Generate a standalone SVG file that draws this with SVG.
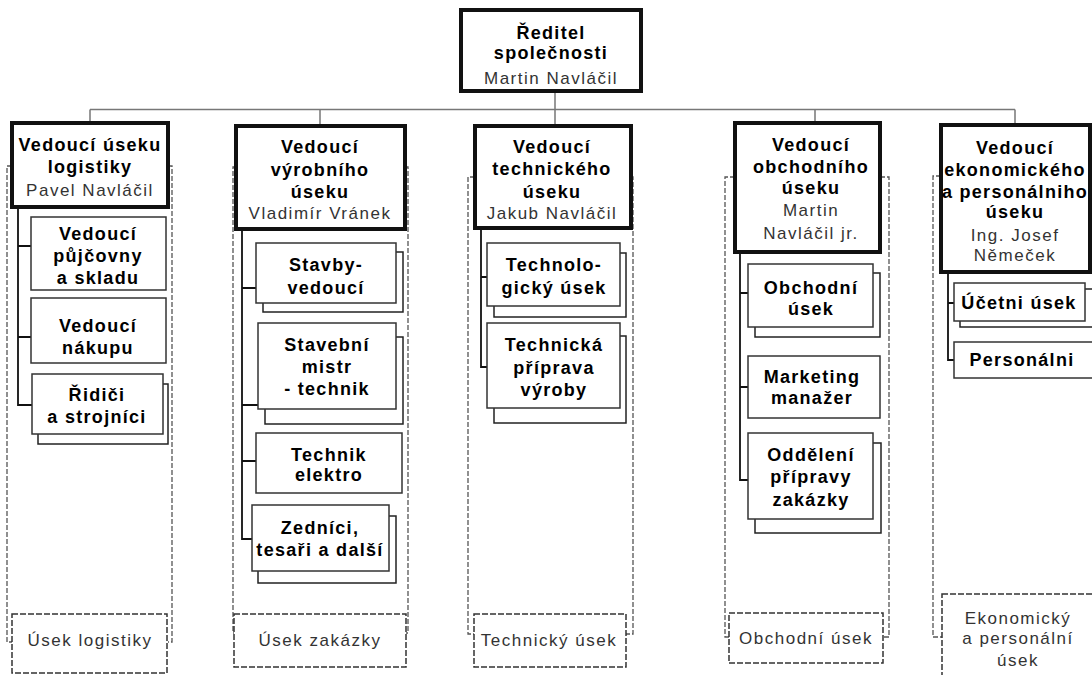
<svg xmlns="http://www.w3.org/2000/svg" width="1092" height="675" viewBox="0 0 1092 675">
<style>
.bg{fill:#fff}
.thick{fill:#fff;stroke:#111;stroke-width:4}
.box{fill:#fff;stroke:#333;stroke-width:1.5}
.sh{fill:#fff;stroke:#222;stroke-width:1.5}
.main{fill:none;stroke:#777;stroke-width:1.5}
.con{fill:none;stroke:#111;stroke-width:1.8}
.outl{fill:none;stroke:#555;stroke-width:1.3;stroke-dasharray:5 2}
.lab{fill:#fff;stroke:#333;stroke-width:1.5;stroke-dasharray:6 2}
text{font-family:"Liberation Sans",Arial,sans-serif;font-size:17px;text-anchor:middle}
.b{font-weight:bold;font-size:18px;fill:#000;letter-spacing:1.3px}
.r{font-weight:normal;fill:#333;letter-spacing:1.5px}
</style>
<rect class="bg" x="0" y="0" width="1092" height="675"/>

<g id="outlines">
<path class="outl" d="M12,166 H7 V642 H12 M168,166 H172 V642 H168"/>
<path class="outl" d="M236,167 H233 V633 H236 M405,167 H408 V633 H405"/>
<path class="outl" d="M475,177 H468 V634 H474 M631,177 H633 V634 H626"/>
<path class="outl" d="M735,177 H725 V637 H729 M880,177 H889 V637 H883"/>
<path class="outl" d="M941,176 H933 V637 H942"/>
</g>

<g id="connectors">
<path class="main" d="M90,109.5 H1015 M90,109.5 V123 M320,109.5 V126 M555,91 V126 M815,109.5 V123 M1015,109.5 V125"/>
<path class="con" d="M18,207 V405 H32 M18,246 H31 M18,337 H31"/>
<path class="con" d="M242,229 V539 H252 M242,288 H256 M242,405 H258 M242,461 H256"/>
<path class="con" d="M481,228 V367 H487 M481,277 H487"/>
<path class="con" d="M740,252 V480 H748 M740,293 H748 M740,387 H748"/>
<path class="con" d="M948,272 V360 H954 M948,303 H954"/>
</g>

<g id="director">
<rect class="thick" x="461" y="10" width="180" height="81"/>
<text class="b" x="551" y="39">Ředitel</text>
<text class="b" x="551" y="59">společnosti</text>
<text class="r" x="551" y="84">Martin Navláčil</text>
</g>

<g id="head-logistika">
<rect class="thick" x="12" y="123" width="156" height="84"/>
<text class="b" x="90" y="151">Vedoucí úseku</text>
<text class="b" x="90" y="173">logistiky</text>
<text class="r" x="90" y="196">Pavel Navláčil</text>
</g>
<g id="pujcovna">
<rect class="box" x="31" y="217" width="135" height="73"/>
<text class="b" x="98" y="240">Vedoucí</text>
<text class="b" x="98" y="262">půjčovny</text>
<text class="b" x="98" y="284">a skladu</text>
</g>
<g id="nakup">
<rect class="box" x="31" y="298" width="135" height="65"/>
<text class="b" x="98" y="332">Vedoucí</text>
<text class="b" x="98" y="354">nákupu</text>
</g>
<g id="ridici">
<rect class="sh" x="38" y="384" width="130" height="60"/>
<rect class="box" x="32" y="374" width="131" height="60"/>
<text class="b" x="97" y="401">Řidiči</text>
<text class="b" x="97" y="423">a strojníci</text>
</g>

<g id="head-vyroba">
<rect class="thick" x="236" y="126" width="169" height="103"/>
<text class="b" x="320" y="153">Vedoucí</text>
<text class="b" x="320" y="176">výrobního</text>
<text class="b" x="320" y="198">úseku</text>
<text class="r" x="320" y="219">Vladimír Vránek</text>
</g>
<g id="stavbyvedouci">
<rect class="sh" x="263" y="252" width="140" height="60"/>
<rect class="box" x="256" y="243" width="140" height="60"/>
<text class="b" x="326" y="271">Stavby-</text>
<text class="b" x="326" y="294">vedoucí</text>
</g>
<g id="mistr">
<rect class="sh" x="265" y="337" width="138" height="87"/>
<rect class="box" x="258" y="323" width="138" height="86"/>
<text class="b" x="327" y="351">Stavební</text>
<text class="b" x="327" y="373">mistr</text>
<text class="b" x="327" y="395">- technik</text>
</g>
<g id="elektro">
<rect class="box" x="256" y="433" width="146" height="60"/>
<text class="b" x="329" y="461">Technik</text>
<text class="b" x="329" y="481">elektro</text>
</g>
<g id="zednici">
<rect class="sh" x="258" y="516" width="138" height="67"/>
<rect class="box" x="252" y="505" width="137" height="66"/>
<text class="b" x="320" y="534">Zedníci,</text>
<text class="b" x="320" y="556">tesaři a další</text>
</g>

<g id="head-technicky">
<rect class="thick" x="475" y="126" width="156" height="102"/>
<text class="b" x="552" y="153">Vedoucí</text>
<text class="b" x="552" y="175">technického</text>
<text class="b" x="552" y="198">úseku</text>
<text class="r" x="552" y="219">Jakub Navláčil</text>
</g>
<g id="technologicky">
<rect class="sh" x="494" y="253" width="132" height="64"/>
<rect class="box" x="487" y="243" width="133" height="63"/>
<text class="b" x="554" y="271">Technolo-</text>
<text class="b" x="554" y="294">gický úsek</text>
</g>
<g id="priprava">
<rect class="sh" x="494" y="336" width="132" height="87"/>
<rect class="box" x="487" y="323" width="133" height="85"/>
<text class="b" x="554" y="351">Technická</text>
<text class="b" x="554" y="374">příprava</text>
<text class="b" x="554" y="396">výroby</text>
</g>

<g id="head-obchodni">
<rect class="thick" x="735" y="123" width="145" height="129"/>
<text class="b" x="811" y="151">Vedoucí</text>
<text class="b" x="811" y="173">obchodního</text>
<text class="b" x="811" y="194">úseku</text>
<text class="r" x="811" y="216">Martin</text>
<text class="r" x="811" y="239">Navláčil jr.</text>
</g>
<g id="obchodni-usek">
<rect class="sh" x="755" y="273" width="125" height="64"/>
<rect class="box" x="748" y="264" width="125" height="63"/>
<text class="b" x="811" y="294">Obchodní</text>
<text class="b" x="811" y="315">úsek</text>
</g>
<g id="marketing">
<rect class="box" x="748" y="356" width="132" height="62"/>
<text class="b" x="812" y="383">Marketing</text>
<text class="b" x="812" y="404">manažer</text>
</g>
<g id="oddeleni">
<rect class="sh" x="755" y="443" width="126" height="90"/>
<rect class="box" x="748" y="433" width="125" height="86"/>
<text class="b" x="811" y="461">Oddělení</text>
<text class="b" x="811" y="483">přípravy</text>
<text class="b" x="811" y="506">zakázky</text>
</g>

<g id="head-ekonomicky">
<rect class="thick" x="941" y="125" width="149" height="147"/>
<text class="b" x="1015" y="154">Vedoucí</text>
<text class="b" x="1015" y="176">ekonomického</text>
<text class="b" x="1015" y="198">a personálniho</text>
<text class="b" x="1015" y="218">úseku</text>
<text class="r" x="1015" y="241">Ing. Josef</text>
<text class="r" x="1015" y="261">Němeček</text>
</g>
<g id="ucetni">
<rect class="sh" x="960" y="289" width="140" height="38"/>
<rect class="box" x="954" y="283" width="131" height="38"/>
<text class="b" x="1019" y="309">Účetni úsek</text>
</g>
<g id="personalni">
<rect class="box" x="954" y="342" width="145" height="36"/>
<text class="b" x="1022" y="366">Personálni</text>
</g>

<g id="labels">
<rect class="lab" x="12" y="614" width="155" height="59"/>
<text class="r" x="90" y="646">Úsek logistiky</text>
<rect class="lab" x="234" y="614" width="172" height="53"/>
<text class="r" x="320" y="646">Úsek zakázky</text>
<rect class="lab" x="474" y="614" width="152" height="53"/>
<text class="r" x="549" y="646">Technický úsek</text>
<rect class="lab" x="729" y="613" width="154" height="50"/>
<text class="r" x="806" y="644">Obchodní úsek</text>
<rect class="lab" x="942" y="594" width="160" height="90"/>
<text class="r" x="1018" y="624">Ekonomický</text>
<text class="r" x="1018" y="644">a personální</text>
<text class="r" x="1018" y="666">úsek</text>
</g>
</svg>
